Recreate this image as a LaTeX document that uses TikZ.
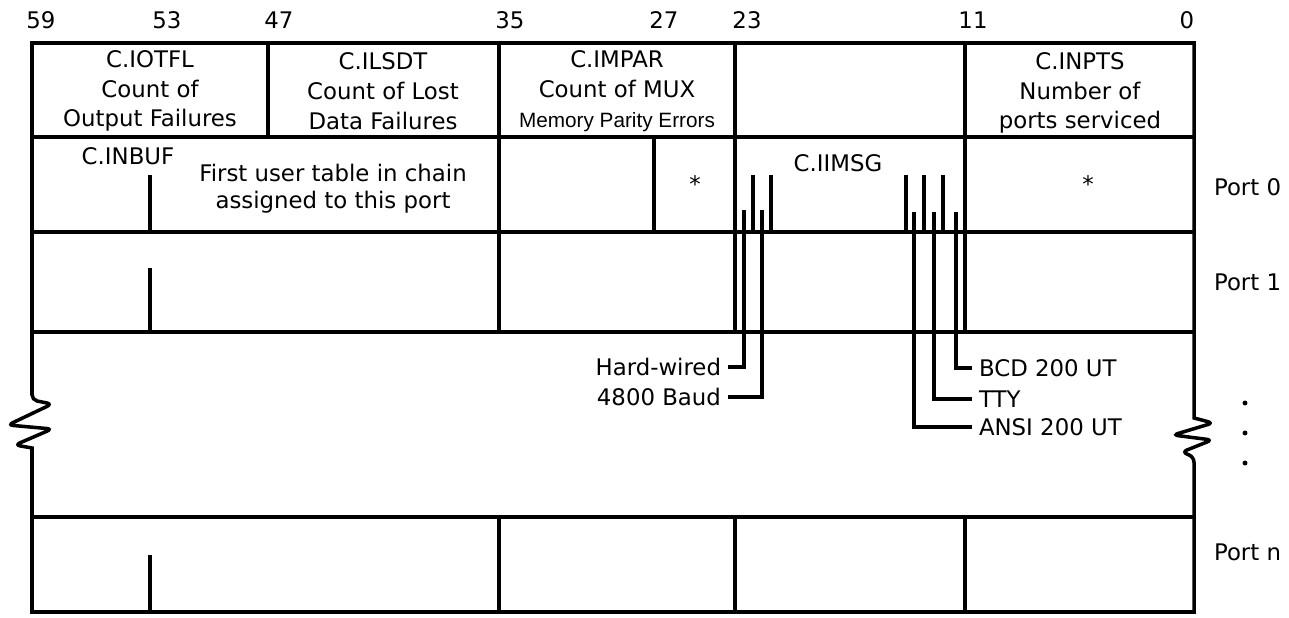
\documentclass[tikz,border=0pt]{standalone}
\usepackage{fontspec}
\setmainfont{DejaVu Sans}
\newfontfamily\narrowfont{Liberation Sans}
\usetikzlibrary{calc,positioning}

\begin{document}
\begin{tikzpicture}[x=0.02cm, y=-0.02cm, line width=2pt,
        txt/.style={font=\fontsize{13}{17}\selectfont, inner sep=0pt, align=center},
        lbl/.style={font=\fontsize{13}{17}\selectfont, inner xsep=3pt, inner ysep=0pt},
        flag/.style={line width=1.8pt}]
        \useasboundingbox (0,0) rectangle (1289,618);

        % frame with the two breaks
        \draw (32,612) -- (32,448) [rounded corners=3pt] -- (15,445) -- (52,429) -- (8,425) -- (52,404) -- (32,400)
            [sharp corners] -- (32,43) -- (1194,43) -- (1194,418) [rounded corners=3pt] -- (1213,423) -- (1173,435)
            -- (1212,440) -- (1182,452) -- (1194,457) [sharp corners] -- (1194,612) -- cycle;
        \foreach \y in {137,232,332,517}
            \draw[-] (32,\y) -- (1194,\y);
        \foreach \x in {499,735,965} {
            \draw[-] (\x,43) -- (\x,332);
            \draw[-] (\x,517) -- (\x,612);
        }
        \draw[-] (268,43) -- (268,137);
        \draw[-] (654,137) -- (654,232);

        % bit numbers
        \foreach \n/\x in {59/41,53/167,47/279,35/510,27/664,23/747,11/973,0/1187}
            \node[txt] (bit\n) at (\x,20) {\n};

        % fields
        \node[txt] (iotfl) at (150,91) {C.IOTFL\\Count of\\Output Failures};
        \node[txt] (ilsdt) at (383,91) {C.ILSDT\\Count of Lost\\Data Failures};
        \node[txt] (impar) at (617,91) {C.IMPAR\\Count of MUX\\{\narrowfont\fontsize{11.8}{17}\selectfont Memory Parity Errors}};
        \node[txt] (inpts) at (1080,93) {C.INPTS\\Number of\\ports serviced};
        \node[txt] (inbuf) at (128,156) {C.INBUF};
        \node[txt, font=\fontsize{13}{15.3}\selectfont] (chain) at (333,189) {First user table in chain\\assigned to this port};
        \node[txt] (iimsg) at (838,163) {C.IIMSG};
        \node[txt] (star1) at (695,184) {*};
        \node[txt] (star2) at (1088,184) {*};

        % ports
        \node[lbl, anchor=west] (port0) at (1207,187) {Port 0};
        \node[lbl, anchor=west] (port1) at (1207,282) {Port 1};
        \node[lbl, anchor=west] (portn) at (1207,552) {Port n};
        \foreach \i/\y in {1/403,2/433,3/463}
            \node[circle, fill=black, inner sep=1pt] (dot\i) at (1245,\y) {};

        % chain pointer
        \foreach \t/\b in {175/232,268/332,555/612}
            \draw[flag] (150,\t) -- (150,\b);

        % message flags
        \foreach \x in {753,771,906,924,943}
            \draw[flag] (\x,175) -- (\x,232);
        \node[lbl, anchor=east] (hardwired) at (728,367) {Hard-wired};
        \node[lbl, anchor=east] (baud) at (728,397) {4800 Baud};
        \node[lbl, anchor=west] (bcd) at (972,368) {BCD 200 UT};
        \node[lbl, anchor=west] (tty) at (972,399) {TTY};
        \node[lbl, anchor=west] (ansi) at (972,427) {ANSI 200 UT};
        \coordinate (hwtop) at (744,210);
        \coordinate (baudtop) at (762,210);
        \coordinate (bcdtop) at (956,212);
        \coordinate (ttytop) at (934,212);
        \coordinate (ansitop) at (914,212);
        \draw[flag] (hwtop) |- (hardwired.east);
        \draw[flag] (baudtop) |- (baud.east);
        \draw[flag] (bcdtop) |- (bcd.west);
        \draw[flag] (ttytop) |- (tty.west);
        \draw[flag] (ansitop) |- (ansi.west);
\end{tikzpicture}
\end{document}
